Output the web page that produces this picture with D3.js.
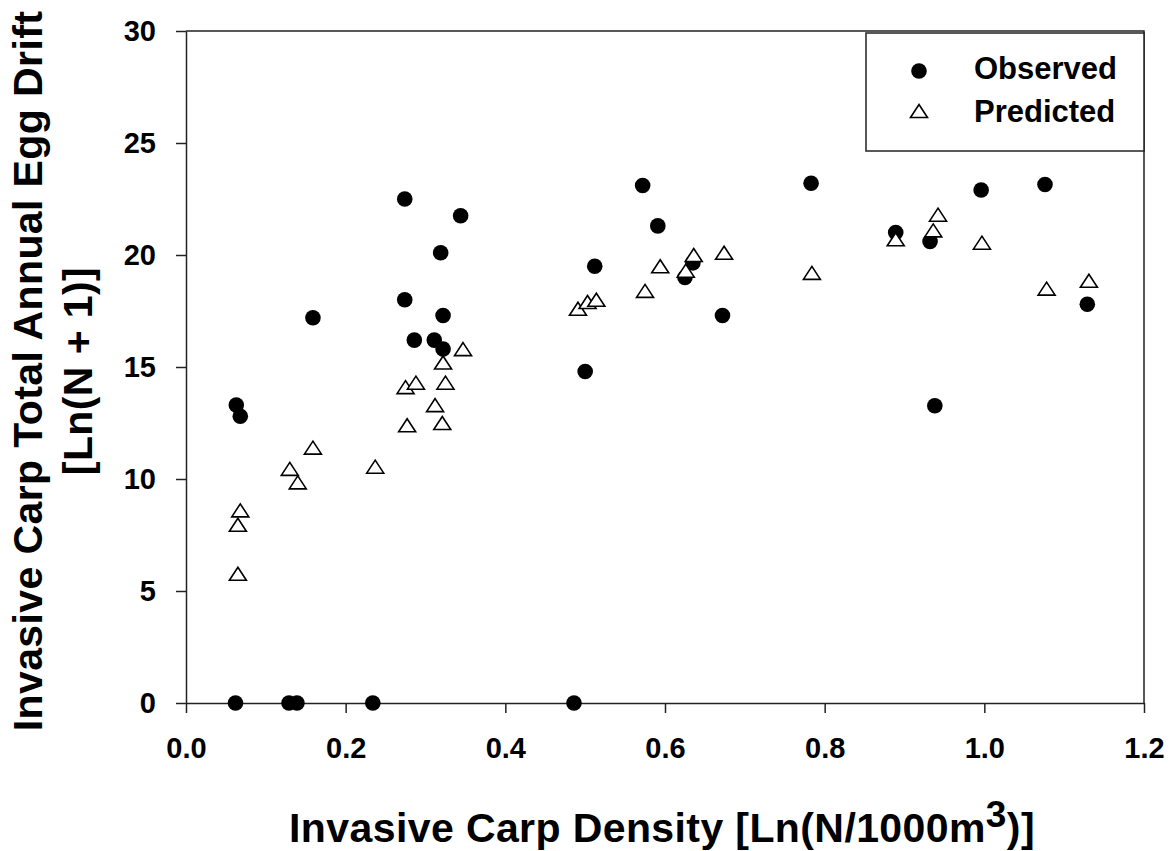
<!DOCTYPE html>
<html>
<head>
<meta charset="utf-8">
<script src="https://cdn.jsdelivr.net/npm/d3@7"></script>
<style>
  body { margin: 0; background: #fff; }
  text { font-family: "Liberation Sans", Arial, sans-serif; font-weight: bold; fill: #000; }
</style>
</head>
<body>
<div id="chart"></div>
<script>
// observed egg drift vs density
const obsDensity = [0.062, 0.129, 0.139, 0.234, 0.486, 0.063, 0.068, 0.159, 0.274, 0.274,
                    0.286, 0.311, 0.322, 0.319, 0.322, 0.344, 0.500, 0.512, 0.572, 0.591,
                    0.625, 0.635, 0.672, 0.783, 0.889, 0.932, 0.938, 0.996, 1.076, 1.129];
const obsDrift = [0, 0, 0, 0, 0, 13.3, 12.8, 17.2, 22.5, 18.0,
                  16.2, 16.2, 15.8, 20.1, 17.3, 21.75, 14.8, 19.5, 23.1, 21.3,
                  19.0, 19.65, 17.3, 23.2, 21.0, 20.6, 13.27, 22.9, 23.15, 17.8];

// predicted egg drift vs density
const predDensity = [0.065, 0.065, 0.068, 0.130, 0.140, 0.159, 0.237, 0.275, 0.277, 0.288,
                     0.312, 0.321, 0.322, 0.325, 0.347, 0.491, 0.503, 0.514, 0.575, 0.594,
                     0.626, 0.636, 0.674, 0.784, 0.889, 0.936, 0.942, 0.997, 1.078, 1.131];
const predDrift = [5.77, 7.96, 8.6, 10.45, 9.85, 11.4, 10.55, 14.1, 12.4, 14.3,
                   13.3, 12.5, 15.2, 14.3, 15.8, 17.6, 17.9, 18.0, 18.4, 19.5,
                   19.3, 20.0, 20.1, 19.2, 20.7, 21.1, 21.8, 20.55, 18.5, 18.85];

const xTicks = [0, 0.2, 0.4, 0.6, 0.8, 1.0, 1.2];
const yTicks = [0, 5, 10, 15, 20, 25, 30];
const seriesNames = ["Observed", "Predicted"];

const W = 1170, H = 851;
const margin = {top: 31, right: 26, bottom: 148, left: 186};
const width = W - margin.left - margin.right;
const height = H - margin.top - margin.bottom;

const svg = d3.select("#chart").append("svg")
    .attr("width", W)
    .attr("height", H);

const g = svg.append("g")
    .attr("transform", "translate(" + margin.left + "," + margin.top + ")");

const x = d3.scaleLinear().domain([0, 1.2]).range([0, width]);
const y = d3.scaleLinear().domain([0, 30]).range([height, 0]);

// triangle marker, white fill
const tri = "M0,-6.5L8.5,6.5L-8.5,6.5Z";

// top and right frame
g.append("path")
    .attr("d", "M0,0H" + width + "V" + height)
    .attr("fill", "none")
    .attr("stroke", "#222")
    .attr("stroke-width", 1.5);

// x axis
const xAxis = g.append("g")
    .attr("transform", "translate(0," + height + ")")
    .call(d3.axisBottom(x).tickValues(xTicks).tickFormat(d3.format(".1f"))
        .tickSize(10).tickSizeOuter(0).tickPadding(24));

// y axis
const yAxis = g.append("g")
    .call(d3.axisLeft(y).tickValues(yTicks).tickSize(10).tickSizeOuter(0).tickPadding(20));

[xAxis, yAxis].forEach(a => {
    a.select(".domain").attr("stroke", "#222").attr("stroke-width", 1.5);
    a.selectAll(".tick line").attr("stroke", "#222").attr("stroke-width", 1.5);
    a.selectAll(".tick text")
        .attr("font-family", null)
        .style("font-size", "29px")
        .attr("fill", "#000");
});

// observed points
g.append("g")
    .selectAll("circle")
    .data(obsDensity.map((d, i) => [d, obsDrift[i]]))
    .join("circle")
    .attr("cx", d => x(d[0]))
    .attr("cy", d => y(d[1]))
    .attr("r", 7.8)
    .attr("fill", "#000");

// predicted points on top
g.append("g")
    .selectAll("path")
    .data(predDensity.map((d, i) => [d, predDrift[i]]))
    .join("path")
    .attr("transform", d => "translate(" + x(d[0]) + "," + y(d[1]) + ")")
    .attr("d", tri)
    .attr("fill", "#fff")
    .attr("stroke", "#000")
    .attr("stroke-width", 1.6);

// legend
const legend = svg.append("g");
legend.append("rect")
    .attr("x", 866).attr("y", 33)
    .attr("width", 1144 - 866).attr("height", 118)
    .attr("fill", "#fff")
    .attr("stroke", "#222")
    .attr("stroke-width", 1.5);

legend.append("circle")
    .attr("cx", 919).attr("cy", 71).attr("r", 7.8).attr("fill", "#000");
legend.append("path")
    .attr("transform", "translate(919,111)")
    .attr("d", tri)
    .attr("fill", "#fff").attr("stroke", "#000").attr("stroke-width", 1.6);

legend.selectAll("text.lbl")
    .data(seriesNames)
    .join("text")
    .attr("class", "lbl")
    .attr("x", 974)
    .attr("y", (d, i) => 79 + i * 43)
    .style("font-size", "31px")
    .text(d => d);

// x axis title
const xt = svg.append("text")
    .attr("x", margin.left + width / 2 - 3)
    .attr("y", 842)
    .attr("text-anchor", "middle")
    .style("font-size", "41px")
    .style("letter-spacing", "0.4px");
xt.append("tspan").text("Invasive Carp Density [Ln(N/1000m");
xt.append("tspan").attr("dy", -15).style("font-size", "37px").text("3");
xt.append("tspan").attr("dy", 15).text(")]");

// y axis title, two lines
const yt = svg.append("text")
    .attr("transform", "translate(42,371) rotate(-90)")
    .attr("text-anchor", "middle")
    .style("font-size", "41px")
    .style("letter-spacing", "0.4px");
yt.append("tspan").attr("x", 0).attr("y", 0).text("Invasive Carp Total Annual Egg Drift");
yt.append("tspan").attr("x", 0).attr("y", 50).text("[Ln(N + 1)]");
</script>
</body>
</html>
